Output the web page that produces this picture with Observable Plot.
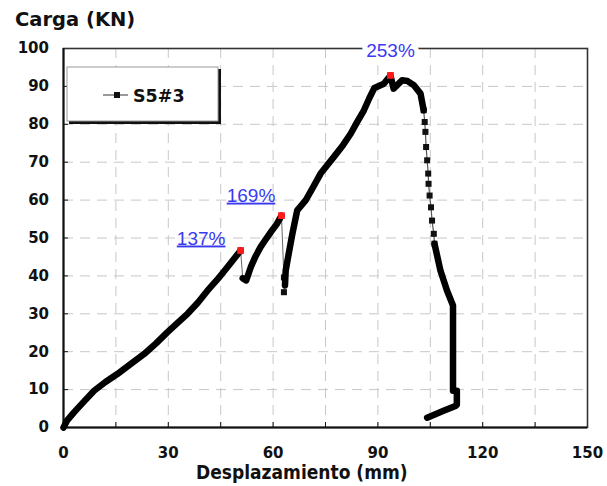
<!DOCTYPE html>
<html>
<head>
<meta charset="utf-8">
<script src="https://cdn.jsdelivr.net/npm/d3@7"></script>
<script src="https://cdn.jsdelivr.net/npm/@observablehq/plot@0.6"></script>
<style>
  html, body { margin: 0; padding: 0; background: #fff; }
  #chart { position: relative; width: 607px; height: 486px; }
</style>
</head>
<body>
<div id="chart"></div>
<script>
// ---- data ----
const seriesName = "S5#3";
const yTitle = "Carga (KN)";
const xTitle = "Desplazamiento (mm)";
const xTickLabels = [0, 30, 60, 90, 120, 150];
const xMinorTicks = [15, 30, 45, 60, 75, 90, 105, 120, 135];
const yTickLabels = [0, 10, 20, 30, 40, 50, 60, 70, 80, 90, 100];
const yGrid = [10, 20, 30, 40, 50, 60, 70, 80, 90];

// dense (thick) portions of the curve
const segA = [[0,0],[1,1.8],[3,4],[5.5,6.5],[8.75,9.7],[12,12],[15.4,14.1],[19,16.6],[23.1,19.4],[26.5,22.2],[29.7,25.1],[32.5,27.5],[35.5,30],[38.5,33],[41.2,36.1],[44,39],[46.9,42.3],[50.7,46.7]];
const segB = [[51.3,39.4],[52.3,38.8],[53.6,42.3],[55,45.2],[56.4,47.6],[58,49.8],[59.3,51.5],[61,53.6],[62.4,55.9]];
const segC = [[63.4,37.5],[63.6,41.4],[64.3,45],[65.5,51],[66.9,57.3],[69.3,59.9],[71.5,63.5],[73.6,67],[77.4,71.4],[80,74.5],[82.2,77.5],[84,80.5],[86,83.7],[87.6,87],[89,89.6],[91.7,90.7],[93.6,92.9],[94.5,89.4],[96.9,91.6],[98.5,91.4],[100.3,90.3],[102.2,88.1],[103.1,83.7]];
const segE = [[106.2,48.5],[107.9,41.4],[109.8,36.1],[111.5,32.2],[111.5,9.7],[112.6,9.7],[112.6,6],[112.2,5.7],[108.8,4.4],[104.1,2.6]];
// thin connectors with separate markers
const drop1 = [[50.7,46.7],[51.3,39.4]];
const drop2 = [[62.4,55.9],[63.1,39.6],[63.1,35.7],[63.4,37.5]];
const segD = [[103.1,83.7],[103.4,80.6],[103.6,78],[103.8,74],[104.1,70.5],[104.4,67],[104.5,64.3],[104.8,61.2],[105.2,58.1],[105.5,54.6],[106,51.1],[106.2,48.5]];
// labelled peaks
const peakX = [50.7, 62.4, 93.6];
const peakY = [46.7, 55.9, 92.9];
const peakLabels = ["137%", "169%", "253%"];

// ---- build ----
const toObj = a => a.map(([x, y]) => ({x, y}));
const peaks = peakX.map((x, i) => ({x, y: peakY[i], label: peakLabels[i]}));
const labelDx = [-39.5, -30.5, 0];
const labelDy = [-6, -14, -18];
const blue = "#3a3af0";
const tickFont = "DejaVu Sans";

const plot = Plot.plot({
  width: 607,
  height: 486,
  marginLeft: 63,
  marginRight: 20,
  marginTop: 48,
  marginBottom: 59,
  x: {domain: [0, 150], label: null},
  y: {domain: [0, 100], label: null},
  style: {background: "white", fontFamily: tickFont},
  marks: [
    Plot.gridX(xMinorTicks, {stroke: "#c8c8c8", strokeOpacity: 1, strokeDasharray: "10,7"}),
    Plot.gridY(yGrid, {stroke: "#c8c8c8", strokeOpacity: 1, strokeDasharray: "10,7"}),
    Plot.frame({stroke: "#333", strokeWidth: 1.6}),
    Plot.ruleX([0], {stroke: "#111", strokeWidth: 2}),
    Plot.ruleY([0], {stroke: "#111", strokeWidth: 2}),
    Plot.axisX(xMinorTicks, {tickSize: -5, text: null, label: null, stroke: "#111"}),
    Plot.axisY(yGrid, {tickSize: -5, text: null, label: null, stroke: "#111"}),
    Plot.axisX(xTickLabels, {tickSize: 0, tickPadding: 20, label: null, fontSize: 15, fontWeight: "bold", fill: "#111", style: {letterSpacing: "1.5px"}}),
    Plot.axisY(yTickLabels, {tickSize: 0, tickPadding: 14.5, label: null, fontSize: 15, fontWeight: "bold", fill: "#111", style: {letterSpacing: "1.5px"}}),
    // thin connectors
    Plot.line(toObj(drop1), {x: "x", y: "y", stroke: "#666", strokeWidth: 1}),
    Plot.line(toObj(drop2), {x: "x", y: "y", stroke: "#666", strokeWidth: 1}),
    Plot.line(toObj(segD), {x: "x", y: "y", stroke: "#555", strokeWidth: 1.2}),
    Plot.dot(toObj(drop2).slice(1, 3), {x: "x", y: "y", symbol: "square", r: 3.4, fill: "#111"}),
    Plot.dot(toObj(segD), {x: "x", y: "y", symbol: "square", r: 3.4, fill: "#111"}),
    // thick dense portions
    ...[segA, segB, segC, segE].map(s =>
      Plot.line(toObj(s), {x: "x", y: "y", stroke: "#000", strokeWidth: 6.5, strokeLinejoin: "round", strokeLinecap: "round"})
    ),
    // red peak markers
    Plot.dot(peaks, {x: "x", y: "y", symbol: "square", r: 3.8, fill: "#ff1a1a"}),
    // percentage labels
    ...peaks.map((p, i) =>
      Plot.text([p], {x: "x", y: "y", text: "label", dx: labelDx[i], dy: labelDy[i], lineAnchor: "bottom",
        fill: blue, fontSize: 19, fontFamily: "Liberation Sans",
        stroke: i === 2 ? "white" : null, strokeWidth: 10})
    )
  ]
});

const svg = d3.select(plot);
// underline percentage labels
svg.selectAll("g").filter(function() { return this.getAttribute("fill") === blue; })
  .selectAll("text").attr("text-decoration", "underline");
// axis titles
svg.append("text").attr("x", 15).attr("y", 26).attr("text-anchor", "start")
  .attr("font-family", "DejaVu Sans").attr("font-weight", "bold").attr("font-size", 19.5)
  .attr("fill", "#111").text(yTitle);
svg.append("text").attr("x", 196).attr("y", 478.5).attr("text-anchor", "start")
  .attr("font-family", "DejaVu Sans Condensed, DejaVu Sans").attr("font-stretch", "condensed")
  .attr("font-weight", "bold").attr("font-size", 19)
  .attr("fill", "#111").text(xTitle);
// legend box with shadow
const lg = svg.append("g").attr("text-anchor", "start");
lg.append("rect").attr("x", 69).attr("y", 69).attr("width", 152).attr("height", 55).attr("fill", "#111");
lg.append("rect").attr("x", 67).attr("y", 67).attr("width", 151).attr("height", 54).attr("fill", "white").attr("stroke", "#999").attr("stroke-width", 1);
lg.append("line").attr("x1", 103).attr("x2", 128).attr("y1", 95).attr("y2", 95).attr("stroke", "#555").attr("stroke-width", 1.2);
lg.append("rect").attr("x", 114).attr("y", 92).attr("width", 6).attr("height", 6).attr("fill", "#111");
lg.append("text").attr("x", 133).attr("y", 101.5).attr("font-family", "DejaVu Sans").attr("font-weight", "bold")
  .attr("font-size", 17.5).attr("fill", "#111").text(seriesName);

document.getElementById("chart").appendChild(plot);
</script>
</body>
</html>
